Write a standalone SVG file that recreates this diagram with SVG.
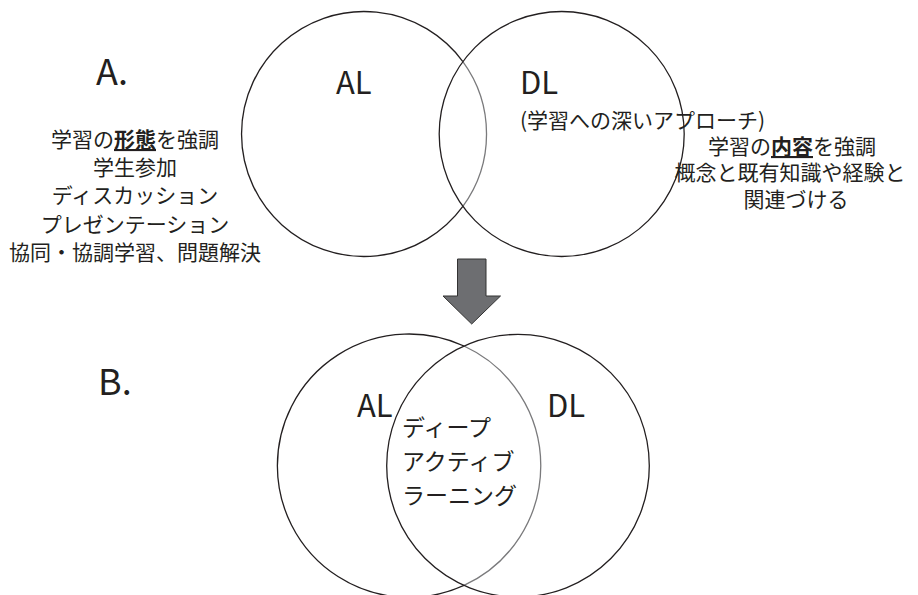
<svg xmlns="http://www.w3.org/2000/svg" width="918" height="595" viewBox="0 0 918 595">
<style>
  .c { fill: none; stroke: #231f20; stroke-width: 1.3; }
  .g { fill: none; stroke: #7a7a7c; stroke-width: 1.3; }
  .t { font-family: "Noto Sans CJK JP", "Noto Sans", sans-serif; fill: #231f20; }
  .big { font-size: 36px; }
  .lab { font-size: 31px; }
  .jp { font-size: 21px; }
  .em { font-weight: bold; text-decoration: underline; }
</style>
<rect width="918" height="595" fill="#ffffff"/>

<g id="sectionA-label"><text class="t big" x="96" y="85">A.</text></g>
<g id="sectionB-label"><text class="t big" x="98" y="395">B.</text></g>

<g id="A-AL">
  <path class="c" d="M 462.85 61.6 A 122.5 122.5 0 1 0 462.85 206.4"/>
  <path class="g" d="M 462.85 61.6 A 122.5 122.5 0 0 1 462.85 206.4"/>
  <text class="t lab" x="336" y="94">AL</text>
</g>
<g id="A-DL">
  <circle class="c" cx="561.7" cy="134" r="122.5"/>
  <text class="t lab" x="520" y="94">DL</text>
  <text class="t jp" x="520" y="128" textLength="245" lengthAdjust="spacing">(学習への深いアプローチ)</text>
</g>

<g id="A-AL-notes" class="t jp" text-anchor="middle">
  <text x="135" y="147">学習の<tspan class="em">形態</tspan>を強調</text>
  <text x="135" y="175">学生参加</text>
  <text x="135" y="203">ディスカッション</text>
  <text x="135" y="232">プレゼンテーション</text>
  <text x="135" y="260">協同・協調学習、問題解決</text>
</g>

<g id="A-DL-notes" class="t jp" text-anchor="middle">
  <text x="792" y="154">学習の<tspan class="em">内容</tspan>を強調</text>
  <text x="790" y="180">概念と既有知識や経験と</text>
  <text x="796" y="207">関連づける</text>
</g>

<g id="connectors">
  <polygon points="457.5,259 486,259 486,296 500.5,296 471.7,324 443,296 457.5,296" fill="#6d6e71" stroke="#333333" stroke-width="1"/>
</g>

<g id="B-AL">
  <path class="c" d="M 464 346 A 131.7 131.7 0 1 0 464 585.4"/>
  <path class="g" d="M 464 346 A 131.7 131.7 0 0 1 464 585.4"/>
  <text class="t lab" x="357" y="417">AL</text>
</g>
<g id="B-DL">
  <circle class="c" cx="518" cy="465.7" r="131.3"/>
  <text class="t lab" x="547" y="417">DL</text>
</g>
<g id="B-overlap" class="t" font-size="23px">
  <text x="402" y="436">ディープ</text>
  <text x="402" y="470">アクティブ</text>
  <text x="402" y="504">ラーニング</text>
</g>
</svg>
